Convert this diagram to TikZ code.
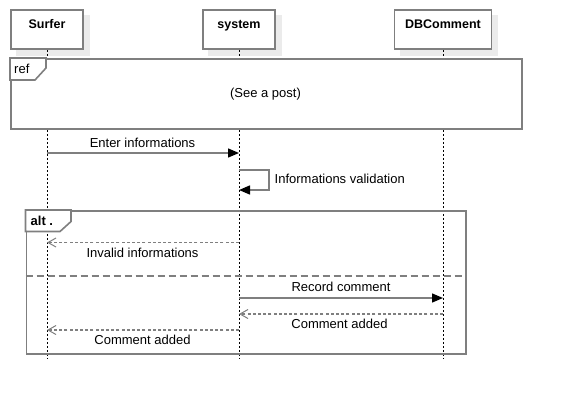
\documentclass[tikz,border=0pt]{standalone}
\usepackage{fontspec}
\setmainfont{Liberation Sans}
\usetikzlibrary{arrows.meta,backgrounds}
\definecolor{lgray}{HTML}{7F7F7F}
\definecolor{shadowgray}{HTML}{EBEBEB}
\tikzset{
  actor/.style={draw=lgray, line width=1.6pt, fill=white, minimum width=#1, minimum height=39pt,
    inner xsep=0pt, inner ysep=0pt, text height=18.5pt, text depth=20.5pt,
    font=\fontsize{12.5}{14}\selectfont\bfseries},
  lifeline/.style={black, line width=0.8pt, dash pattern=on 2pt off 2pt},
  frame/.style={draw=lgray, line width=1.6pt},
  msg/.style={lgray, line width=1.4pt, -{Triangle[length=11pt,width=9pt,black]}},
  ret/.style={lgray, line width=1.5pt, dash pattern=on 3pt off 2.2pt, -{Straight Barb[length=8pt,width=9pt,line width=1pt]}},
  lbl/.style={font=\fontsize{13}{15}\selectfont, inner sep=0pt, text=black},
}
\begin{document}
\begin{tikzpicture}[x=1pt,y=-1pt]
\useasboundingbox (0,0) rectangle (561,400);
% actors
\node[actor=72pt] (surfer) at (47,29.5) {Surfer};
\node[actor=72pt] (system) at (239,29.5) {system};
\node[actor=97pt] (db) at (443,29.5) {DBComment};
\begin{scope}[on background layer]
\foreach \n in {surfer,system,db}
  \fill[shadowgray] ([shift={(6,6)}]\n.north west) rectangle ([shift={(6,6)}]\n.south east);
\end{scope}
% lifelines
\coordinate (surferEnd) at (47,358);
\coordinate (systemEnd) at (239,358);
\coordinate (dbEnd) at (443,358);
\draw[lifeline] (surfer.south) -- (surferEnd);
\draw[lifeline] (system.south) -- (systemEnd);
\draw[lifeline] (db.south) -- (dbEnd);
% ref frame
\node[frame, fill=white, minimum width=511pt, minimum height=70pt, inner sep=0pt, anchor=north west] (ref) at (10,58) {};
\draw[frame, fill=white] (ref.north west) -- (46,58) -- (46,68) -- (35,80) -- (10,80) -- cycle;
\node[lbl, anchor=west] (reftxt) at (14,69) {ref};
\node[lbl] (seepost) at (265.5,94) {(See a post)};
% alt frame
\node[frame, minimum width=439.5pt, minimum height=143pt, inner sep=0pt, anchor=north west] (alt) at (25.5,210) {};
\draw[frame, fill=white] (alt.north west) -- (71,210) -- (71,221.5) -- (60,231.5) -- (25.5,231.5) -- cycle;
\node[lbl, anchor=west, font=\fontsize{13}{15}\selectfont\bfseries] (alttxt) at (30.5,220.5) {alt .};
\coordinate (sepL) at (25.5,276);
\coordinate (sepR) at (465,276);
\draw[lgray, line width=1.6pt, dash pattern=on 7pt off 4pt] (sepL) -- (sepR);
% messages
\coordinate (m1a) at (47,153); \coordinate (m1b) at (239,153);
\draw[msg] (m1a) -- (m1b);
\node[lbl] (l1) at (142.5,143) {Enter informations};
\coordinate (m2a) at (239,170); \coordinate (m2b) at (239,190);
\draw[msg] (m2a) -- (269,170) -- (269,190) -- (m2b);
\node[lbl, anchor=west] (l2) at (274.5,179) {Informations validation};
\coordinate (m3a) at (239,242.5); \coordinate (m3b) at (47,242.5);
\draw[ret] (m3a) -- (m3b);
\node[lbl] (l3) at (142.5,252.5) {Invalid informations};
\coordinate (m4a) at (239,298); \coordinate (m4b) at (443,298);
\draw[msg] (m4a) -- (m4b);
\node[lbl] (l4) at (341,287) {Record comment};
\coordinate (m5a) at (443,314); \coordinate (m5b) at (239,314);
\draw[ret] (m5a) -- (m5b);
\node[lbl] (l5) at (339.5,323.5) {Comment added};
\coordinate (m6a) at (239,330); \coordinate (m6b) at (47,330);
\draw[ret] (m6a) -- (m6b);
\node[lbl] (l6) at (142.5,340) {Comment added};
\end{tikzpicture}
\end{document}
